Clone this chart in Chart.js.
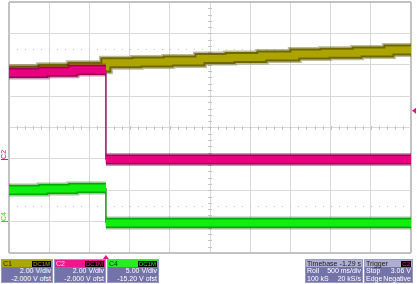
<!DOCTYPE html>
<html>
<head>
<meta charset="utf-8">
<script src="https://cdn.jsdelivr.net/npm/chart.js@4.4.1/dist/chart.umd.min.js"></script>
<style>
  html, body { margin: 0; padding: 0; background: #fff; }
  #wrap { position: relative; width: 417px; height: 284px; overflow: hidden; font-family: "Liberation Sans", Arial, sans-serif; }
  #scope { position: absolute; left: 0; top: 0; }
  .box { position: absolute; top: 259px; height: 24px; background: #7373aa; color: #fff; font-size: 7px; line-height: 8px; box-sizing: border-box; border: 1px solid #9a9ac4; }
  .box .hd { height: 7px; line-height: 7px; padding: 0 1px; display: flex; justify-content: space-between; align-items: center; color: #1a1a1a; }
  .box .row { display: flex; justify-content: space-between; padding: 0 1px; height: 8px; }
  .box .row.r { justify-content: flex-end; }
  .badge { background: #000; padding: 0 1px; height: 6px; line-height: 6px; font-size: 6px; }
</style>
</head>
<body>
<div id="wrap">
  <canvas id="scope" width="417" height="284"></canvas>

  <div class="box" style="left:1px;width:52px;">
    <div class="hd" style="background:#aea600;"><span>C1</span><span class="badge" style="color:#aea600;">DC1M</span></div>
    <div class="row r">2.00 V/div</div>
    <div class="row r">-2.000 V ofst</div>
  </div>
  <div class="box" style="left:54px;width:52px;">
    <div class="hd" style="background:#ee1689;color:#fde;"><span>C2</span><span class="badge" style="color:#ee1689;">DC1M</span></div>
    <div class="row r">2.00 V/div</div>
    <div class="row r">-2.000 V ofst</div>
  </div>
  <div class="box" style="left:107px;width:52px;">
    <div class="hd" style="background:#22ee22;"><span>C4</span><span class="badge" style="color:#22ee22;">DC1M</span></div>
    <div class="row r">5.00 V/div</div>
    <div class="row r">-15.20 V ofst</div>
  </div>

  <div class="box" style="left:305px;width:58px;">
    <div class="hd" style="background:#aeaed2;"><span>Timebase</span><span>-1.29 s</span></div>
    <div class="row"><span>Roll</span><span>500 ms/div</span></div>
    <div class="row"><span>100 kS</span><span>20 kS/s</span></div>
  </div>
  <div class="box" style="left:364px;width:49px;">
    <div class="hd" style="background:#aeaed2;"><span>Trigger</span><span class="badge" style="color:#ee1689;">C2</span></div>
    <div class="row"><span>Stop</span><span>3.06 V</span></div>
    <div class="row"><span>Edge</span><span>Negative</span></div>
  </div>
</div>

<script>
// all positions in screen divisions: 10 across, 8 down (-4..4)
const c1Edges = [0, 0.85, 1.59, 2.41, 3.18, 3.96, 4.75, 5.5, 6.29, 7.11, 7.86, 8.66, 9.45, 10];
const c1Levels = [1.80, 1.86, 1.92, 2.06, 2.09, 2.12, 2.20, 2.23, 2.28, 2.34, 2.37, 2.41, 2.47];

const c2Edges = [0, 0.85, 1.59, 2.41, 10];
const c2Levels = [1.74, 1.78, 1.83, -1.02];

const c4Edges = [0, 0.85, 1.59, 2.41, 10];
const c4Levels = [-1.99, -1.96, -1.93, -3.04];

const stepTime = 2.41;       // trigger position
const trigLevel = 0.53;      // C2 trigger level, 3.06 V
const groundLevels = [-1.0, -2.98];  // C2, C4 markers
const groundNames = ["C2", "C4"];
const groundColors = ["#e8107f", "#22dd22"];
const dottedLevels = [2.5, -2.5];

function stepPoints(edges, levels, from, to) {
  let pts = [];
  for (let i = from; i < to; i++) {
    pts.push({ x: edges[i], y: levels[i] }, { x: edges[i + 1], y: levels[i] });
  }
  return pts;
}

function band(data, color, width, order) {
  return { data: data, borderColor: color, borderWidth: width, order: order, pointRadius: 0, fill: false, borderJoinStyle: "miter" };
}

const c1Pts = stepPoints(c1Edges, c1Levels, 0, c1Levels.length);
const c2Left = stepPoints(c2Edges, c2Levels, 0, 3);
const c2Right = stepPoints(c2Edges, c2Levels, 3, 4);
const c4Left = stepPoints(c4Edges, c4Levels, 0, 3);
const c4Right = stepPoints(c4Edges, c4Levels, 3, 4);

const datasets = [
  band(c1Pts, "rgba(90,84,0,0.4)", 14, 20),
  band(c1Pts, "#6f6800", 11, 19),
  band(c1Pts, "#aca400", 7, 18),

  band([{ x: stepTime, y: c2Levels[2] }, { x: stepTime, y: c2Levels[3] }], "#a0306a", 1, 17),
  band(c2Left, "rgba(120,0,60,0.4)", 13, 16),
  band(c2Left, "#a0005a", 10, 15),
  band(c2Left, "#e8007e", 7, 14),
  band(c2Right, "rgba(120,0,60,0.4)", 13, 16),
  band(c2Right, "#a0005a", 10, 15),
  band(c2Right, "#e8007e", 7, 14),

  band([{ x: stepTime, y: c4Levels[2] }, { x: stepTime, y: c4Levels[3] }], "#30a030", 1, 13),
  band(c4Left, "rgba(0,110,0,0.4)", 13, 12),
  band(c4Left, "#05a805", 10, 11),
  band(c4Left, "#10ee10", 7, 10),
  band(c4Right, "rgba(0,110,0,0.4)", 13, 12),
  band(c4Right, "#05a805", 10, 11),
  band(c4Right, "#10ee10", 7, 10)
];

const scopeDecor = {
  id: "scopeDecor",
  beforeDatasetsDraw(chart) {
    const { ctx, scales: { x, y } } = chart;
    const x0 = x.getPixelForValue(5);
    const y0 = y.getPixelForValue(0);
    ctx.save();
    ctx.fillStyle = "#c4c4c4";
    for (let v = 0; v <= 10.001; v += 0.2) {
      const px = Math.round(x.getPixelForValue(v));
      ctx.fillRect(px, Math.round(y0) - 2, 1, 4);
      dottedLevels.forEach((d) => {
        ctx.fillRect(px, Math.round(y.getPixelForValue(d)), 1, 1);
      });
    }
    for (let v = -4; v <= 4.001; v += 0.2) {
      const py = Math.round(y.getPixelForValue(v));
      ctx.fillRect(Math.round(x0) - 2, py, 4, 1);
    }
    ctx.restore();
  },
  afterDraw(chart) {
    const { ctx, chartArea, scales: { x, y } } = chart;
    ctx.save();
    // trigger time marker under the grid
    const tx = x.getPixelForValue(stepTime);
    ctx.fillStyle = "#e8107f";
    ctx.beginPath();
    ctx.moveTo(tx, chartArea.bottom + 2);
    ctx.lineTo(tx + 3, chartArea.bottom + 6);
    ctx.lineTo(tx - 3, chartArea.bottom + 6);
    ctx.closePath();
    ctx.fill();
    // trigger level marker right of the grid
    const ty = y.getPixelForValue(trigLevel);
    ctx.beginPath();
    ctx.moveTo(chartArea.right + 1, ty);
    ctx.lineTo(chartArea.right + 5, ty - 3);
    ctx.lineTo(chartArea.right + 5, ty + 3);
    ctx.closePath();
    ctx.fill();
    // channel ground labels on the left
    ctx.font = "7px 'Liberation Sans', Arial, sans-serif";
    ctx.textBaseline = "middle";
    ctx.textAlign = "left";
    groundLevels.forEach((lv, i) => {
      const gy = y.getPixelForValue(lv);
      ctx.fillStyle = groundColors[i];
      ctx.save();
      ctx.translate(4.5, gy);
      ctx.rotate(-Math.PI / 2);
      ctx.fillText(groundNames[i], 0, 0);
      ctx.restore();
      ctx.fillRect(1, Math.round(gy), 7, 1);
    });
    ctx.restore();
  }
};

const edgeWidth = (c, hi, lo) => (c.tick.value === hi || c.tick.value === lo ? 2 : 1);

new Chart(document.getElementById("scope"), {
  type: "line",
  data: { datasets: datasets },
  options: {
    responsive: false,
    animation: false,
    devicePixelRatio: 1,
    layout: { padding: { left: 9, right: 6, top: 2, bottom: 31 } },
    plugins: { legend: { display: false }, tooltip: { enabled: false } },
    elements: { line: { tension: 0 }, point: { radius: 0 } },
    scales: {
      x: {
        type: "linear", min: 0, max: 10,
        ticks: { display: false, stepSize: 1 },
        grid: { color: (c) => (c.tick.value % 10 === 0 ? "#c2c2c2" : "#d8d8d8"), lineWidth: (c) => edgeWidth(c, 0, 10), drawTicks: false },
        border: { display: false }
      },
      y: {
        type: "linear", min: -4, max: 4,
        ticks: { display: false, stepSize: 1 },
        grid: { color: (c) => (Math.abs(c.tick.value) === 4 ? "#c2c2c2" : "#d8d8d8"), lineWidth: (c) => edgeWidth(c, -4, 4), drawTicks: false },
        border: { display: false }
      }
    }
  },
  plugins: [scopeDecor]
});
</script>
</body>
</html>
